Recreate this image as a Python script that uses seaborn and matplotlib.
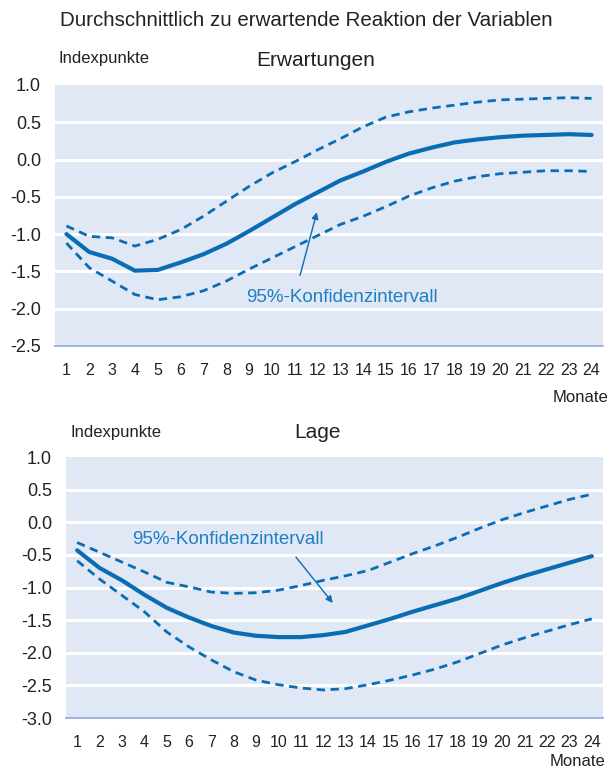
import numpy as np
import pandas as pd
import matplotlib
matplotlib.use("Agg")
import matplotlib.pyplot as plt
import seaborn as sns

monate = list(range(1, 25))

# Erwartungen
erw_mitte = [-1.00, -1.24, -1.33, -1.49, -1.48, -1.38, -1.27, -1.13, -0.96, -0.78, -0.60, -0.44,
             -0.28, -0.16, -0.03, 0.08, 0.16, 0.23, 0.27, 0.30, 0.32, 0.33, 0.34, 0.33]
erw_oben = [-0.89, -1.03, -1.05, -1.16, -1.07, -0.94, -0.76, -0.56, -0.36, -0.18, -0.03, 0.13,
            0.28, 0.44, 0.57, 0.64, 0.69, 0.73, 0.77, 0.80, 0.81, 0.82, 0.83, 0.82]
erw_unten = [-1.12, -1.45, -1.63, -1.81, -1.88, -1.84, -1.76, -1.63, -1.47, -1.32, -1.17, -1.02,
             -0.87, -0.76, -0.63, -0.49, -0.38, -0.29, -0.23, -0.19, -0.17, -0.15, -0.15, -0.16]

# Lage
lage_mitte = [-0.43, -0.70, -0.89, -1.11, -1.31, -1.46, -1.59, -1.69, -1.74, -1.76, -1.76, -1.73,
              -1.68, -1.58, -1.48, -1.37, -1.27, -1.17, -1.05, -0.93, -0.82, -0.72, -0.62, -0.52]
lage_oben = [-0.31, -0.46, -0.61, -0.76, -0.92, -0.99, -1.07, -1.09, -1.08, -1.04, -0.97, -0.89,
             -0.82, -0.74, -0.61, -0.48, -0.36, -0.23, -0.09, 0.04, 0.15, 0.25, 0.35, 0.43]
lage_unten = [-0.59, -0.87, -1.12, -1.37, -1.68, -1.91, -2.11, -2.29, -2.42, -2.49, -2.54, -2.57,
              -2.55, -2.49, -2.42, -2.34, -2.25, -2.14, -2.01, -1.88, -1.77, -1.67, -1.57, -1.48]

blau = "#0a6db3"
text_blau = "#1f7fc4"
hg = "#e1e8f5"
achse = "#8eaadb"
dunkel = "#222222"

sns.set_theme(style="white")
plt.rcParams['font.family'] = ['Liberation Sans', 'DejaVu Sans']

fig = plt.figure(figsize=(6.16, 7.69), dpi=100)
ax1 = fig.add_axes([0.0893, 0.5501, 0.8896, 0.3394])
ax2 = fig.add_axes([0.1071, 0.0663, 0.8718, 0.3394])


def panel(ax, mitte, oben, unten, ylim, yticks):
    df = pd.DataFrame({"Monat": monate, "mitte": mitte, "oben": oben, "unten": unten})
    ax.set_facecolor(hg)
    for y in yticks[1:-1]:
        ax.axhline(y, color="white", lw=2.2, zorder=1)
    sns.lineplot(data=df, x="Monat", y="mitte", ax=ax, color=blau, lw=3.0, zorder=3)
    for col in ["oben", "unten"]:
        sns.lineplot(data=df, x="Monat", y=col, ax=ax, color=blau, lw=2.0,
                     zorder=3).lines[-1].set_dashes([3.0, 2.0])
    ax.set_xlim(0.5, 24.5)
    ax.set_ylim(*ylim)
    ax.set_yticks(yticks)
    ax.set_yticklabels([f"{v:.1f}" for v in yticks], fontsize=13, color=dunkel)
    ax.set_xticks(monate)
    ax.set_xticklabels([str(m) for m in monate], fontsize=11.5, color=dunkel)
    ax.set_xticks(np.arange(0.5, 25, 1), minor=True)
    ax.tick_params(axis="x", which="major", length=0, pad=12.5)
    ax.tick_params(axis="x", which="minor", length=4, width=1, color=achse, direction="in")
    ax.tick_params(axis="y", length=0, pad=10)
    ax.set_xlabel("")
    ax.set_ylabel("")
    for s in ["top", "right", "left"]:
        ax.spines[s].set_visible(False)
    ax.spines["bottom"].set_color(achse)
    ax.spines["bottom"].set_linewidth(1.2)


panel(ax1, erw_mitte, erw_oben, erw_unten, (-2.5, 1.0), [1.0, 0.5, 0.0, -0.5, -1.0, -1.5, -2.0, -2.5])
panel(ax2, lage_mitte, lage_oben, lage_unten, (-3.0, 1.0),
      [1.0, 0.5, 0.0, -0.5, -1.0, -1.5, -2.0, -2.5, -3.0])

fig.text(60 / 616, 1 - 20 / 769, "Durchschnittlich zu erwartende Reaktion der Variablen",
         fontsize=14.8, color=dunkel, va="center")
fig.text(59 / 616, 1 - 58 / 769, "Indexpunkte", fontsize=12, color=dunkel, va="center")
fig.text(316 / 616, 1 - 60 / 769, "Erwartungen", fontsize=15, color=dunkel, va="center", ha="center")
fig.text(608 / 616, 1 - 398 / 769, "Monate", fontsize=12, color=dunkel, va="center", ha="right")

fig.text(70 / 616, 1 - 432 / 769, "Indexpunkte", fontsize=12, color=dunkel, va="center")
fig.text(317 / 616, 1 - 433 / 769, "Lage", fontsize=15, color=dunkel, va="center", ha="center")
fig.text(605 / 616, 1 - 762 / 769, "Monate", fontsize=12, color=dunkel, va="center", ha="right")

ax1.annotate("", xy=(12.0, -0.67), xytext=(11.2, -1.59),
             arrowprops=dict(arrowstyle="-|>", color=blau, lw=1.0, mutation_scale=10), zorder=4)
ax1.text(13.05, -1.85, "95%-Konfidenzintervall", fontsize=13.5, color=text_blau,
         ha="center", va="center", zorder=4)

ax2.annotate("", xy=(12.5, -1.27), xytext=(10.7, -0.50),
             arrowprops=dict(arrowstyle="-|>", color=blau, lw=1.0, mutation_scale=10), zorder=4)
ax2.text(7.75, -0.26, "95%-Konfidenzintervall", fontsize=13.5, color=text_blau,
         ha="center", va="center", zorder=4)

fig.savefig("out.png", dpi=100)
